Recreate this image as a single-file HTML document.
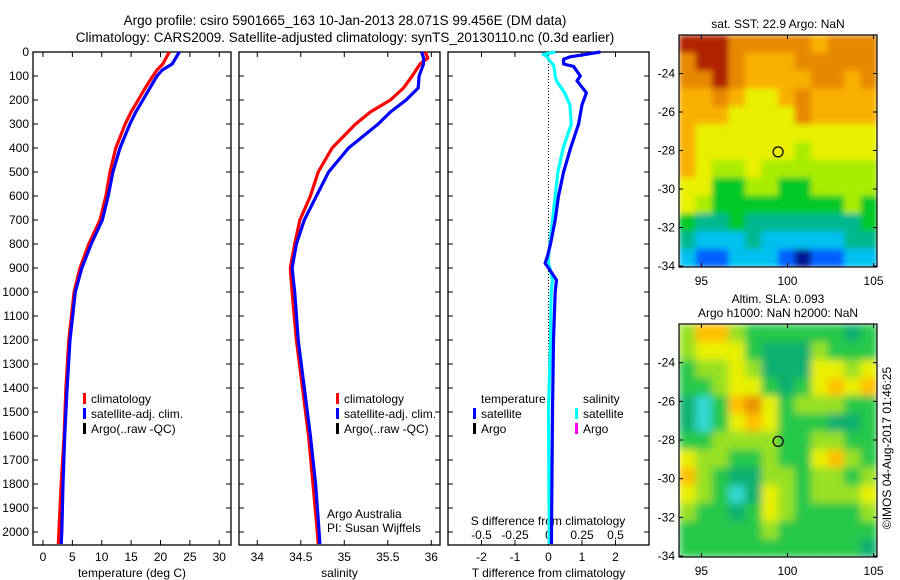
<!DOCTYPE html>
<html><head><meta charset="utf-8"><style>
body{margin:0;background:#fff;}
svg{display:block;font-family:"Liberation Sans",sans-serif;}
</style></head><body>
<svg id="c" width="900" height="580" viewBox="0 0 900 580">
<defs>
<filter id="blurA" x="0" y="0" width="1" height="1"><feGaussianBlur stdDeviation="3" edgeMode="duplicate"/></filter>
<filter id="blurB" x="0" y="0" width="1" height="1"><feGaussianBlur stdDeviation="4" edgeMode="duplicate"/></filter>
<clipPath id="clipA"><rect x="679" y="35" width="198" height="232"/></clipPath>
<clipPath id="clipB"><rect x="679" y="324" width="198" height="233"/></clipPath>
</defs>
</svg>
<script>
// ---- data ----
const tDepth=[0,50,75,100,150,200,250,300,400,500,600,700,800,900,1000,1200,1400,1600,1800,2000,2050];
const tClim=[21.5,20.4,19.4,18.7,17.4,16.2,15.0,14.0,12.4,11.4,10.7,9.7,7.8,6.3,5.3,4.4,3.9,3.6,3.1,2.7,2.6];
const tSat=[23.2,22.0,20.3,19.4,18.2,17.0,15.8,14.8,13.1,11.9,11.1,10.1,8.2,6.6,5.5,4.6,4.1,3.7,3.4,3.2,3.1];
const sDepth=[0,25,50,100,150,200,250,300,400,500,600,700,800,900,1000,1200,1400,1600,1800,2000,2050];
const sClim=[35.93,35.96,35.87,35.78,35.68,35.53,35.30,35.13,34.86,34.70,34.61,34.49,34.43,34.38,34.40,34.45,34.52,34.59,34.64,34.69,34.70];
const sSat=[35.89,35.91,35.91,35.86,35.85,35.71,35.53,35.39,35.05,34.82,34.68,34.54,34.45,34.40,34.43,34.47,34.54,34.61,34.67,34.71,34.72];
const dDepth=[0,10,20,30,50,60,100,120,170,220,300,400,500,600,700,800,850,880,900,950,1000,1200,1500,2000,2050];
const dT=[1.55,1.1,0.65,0.45,0.45,0.75,0.95,0.85,1.13,1.0,0.9,0.66,0.45,0.3,0.2,0.06,-0.03,-0.1,0.0,0.24,0.2,0.15,0.12,0.09,0.09];
const dS=[0.05,-0.04,-0.01,0.0,0.03,0.04,0.05,0.06,0.12,0.16,0.17,0.11,0.07,0.05,0.03,0.01,0.0,0.0,0.01,0.03,0.02,0.015,0.0,0.005,0.005];
const depthTicks=[0,100,200,300,400,500,600,700,800,900,1000,1100,1200,1300,1400,1500,1600,1700,1800,1900,2000];
const tTicks=[0,5,10,15,20,25,30];
const sTicks=[34,34.5,35,35.5,36];
const dTTicks=[-2,-1,0,1,2];
const dSTicks=[-0.5,-0.25,0,0.25,0.5];
const latTicks=[-24,-26,-28,-30,-32,-34];
const lonTicks=[95,100,105];
const sstGrid=["999888887888","899877788888","889877778878","778766787777","777666687777","766666666666","766666656666","765565555555","664455445555","654444444454","433433333334","322232222233","211222101122"];
const slaGrid=["577544444434","566643335444","455653336656","445664346767","324786455544","324676444334","445555445544","655445446754","754335545545","654236545556","544346544445","444445444444","444444444443"];
const argoLon=99.456, argoLat=-28.071;

const svg=document.getElementById('c');
const NS='http://www.w3.org/2000/svg';
function el(t,a,p){const e=document.createElementNS(NS,t);for(const k in a)e.setAttribute(k,a[k]);(p||svg).appendChild(e);return e;}
function txt(x,y,s,anchor,size,p){const e=el('text',{x:x,y:y,'font-size':size||12,'text-anchor':anchor||'middle',fill:'#000'},p);e.textContent=s;return e;}

const yTop=52,yBot=545,dMax=2054;
const yD=d=>yTop+(yBot-yTop)*d/dMax;

const t1=txt(345,25,'Argo profile: csiro 5901665_163 10-Jan-2013 28.071S 99.456E (DM data)','middle',13.5);


const t2=txt(345,42,'Climatology: CARS2009. Satellite-adjusted climatology: synTS_20130110.nc (0.3d earlier)','middle',13.5);



function panel(name,x0,x1,vmin,vmax,ticks,fmt,xlabel,leftLabels){
  const g=el('g',{});
  
  
  const sx=v=>x0+(x1-x0)*(v-vmin)/(vmax-vmin);
  el('rect',{x:x0,y:yTop,width:x1-x0,height:yBot-yTop,fill:'#fff',stroke:'#000','stroke-width':1.3},g);
  depthTicks.forEach(d=>{const y=yD(d);
    el('line',{x1:x0,y1:y,x2:x0+5,y2:y,stroke:'#000'},g);el('line',{x1:x1,y1:y,x2:x1-5,y2:y,stroke:'#000'},g);
    if(leftLabels) txt(x0-4,y+4,String(d),'end',12,g);});
  if(ticks) ticks.forEach(v=>{const x=sx(v);
    el('line',{x1:x,y1:yBot,x2:x,y2:yBot-5,stroke:'#000'},g);el('line',{x1:x,y1:yTop,x2:x,y2:yTop+5,stroke:'#000'},g);
    txt(x,yBot+16,fmt(v),'middle',12,g);});
  if(xlabel){const l=txt((x0+x1)/2,yBot+32,xlabel,'middle',12,g);
    
    }
  return {g,sx};
}
function line(p,depths,vals,color,name){
  const pts=depths.map((d,i)=>p.sx(vals[i]).toFixed(1)+','+yD(d).toFixed(1)).join(' ');
  const pl=el('polyline',{points:pts,fill:'none',stroke:color,'stroke-width':3.2,'stroke-linejoin':'round'},p.g);
  
  
}
function legend(g,x,y,items){
  items.forEach((it,i)=>{el('rect',{x:x,y:y+i*15-10,width:3,height:11,fill:it[1]},g);txt(x+8,y+i*15,it[0],'start',12,g);});
}

const p1=panel('temperature-panel',33,231,-1.7,32,tTicks,v=>String(v),'temperature (deg C)',true);
line(p1,tDepth,tClim,'#f00','temp-climatology-line');
line(p1,tDepth,tSat,'#00f','temp-satellite-line');
legend(p1.g,83,403,[['climatology','#f00'],['satellite-adj. clim.','#00f'],['Argo(..raw -QC)','#000']]);

const p2=panel('salinity-panel',239,440,33.79,36.1,sTicks,v=>String(v),'salinity',false);
line(p2,sDepth,sClim,'#f00','sal-climatology-line');
line(p2,sDepth,sSat,'#00f','sal-satellite-line');
legend(p2.g,336,403,[['climatology','#f00'],['satellite-adj. clim.','#00f'],['Argo(..raw -QC)','#000']]);
txt(327,518,'Argo Australia','start',12,p2.g);
txt(327,532,'PI: Susan Wijffels','start',12,p2.g);

const p3=panel('difference-panel',448,649,-3,3,null,null,'T difference from climatology',false);
el('line',{x1:p3.sx(0),y1:yTop,x2:p3.sx(0),y2:yBot,stroke:'#000','stroke-dasharray':'1,2'},p3.g);
dTTicks.forEach(v=>{const x=p3.sx(v);el('line',{x1:x,y1:yBot,x2:x,y2:yBot-5,stroke:'#000'},p3.g);el('line',{x1:x,y1:yTop,x2:x,y2:yTop+5,stroke:'#000'},p3.g);txt(x,yBot+16,String(v),'middle',12,p3.g);});
const sxS=v=>p3.sx(v*4);
dSTicks.forEach(v=>txt(sxS(v),539,String(v),'middle',12,p3.g));
txt(548,525,'S difference from climatology','middle',12,p3.g);
const pS={g:p3.g,sx:sxS};
line(pS,dDepth,dS,'#0ff','sal-diff-line');
line(p3,dDepth,dT,'#00f','temp-diff-line');
txt(481,403,'temperature','start',12,p3.g);
legend(p3.g,473,418,[['satellite','#00f'],['Argo','#000']]);
txt(583,403,'salinity','start',12,p3.g);
legend(p3.g,575,418,[['satellite','#0ff'],['Argo','#f0f']]);

function cmap(k){return ['#001890','#0060ff','#00c0f0','#00b890','#00c828','#a8ec00','#e8f000','#f8b000','#e88800','#b02000'][k];}
function cmap2(k){return ['#00008f','#0050ff','#30d8d0','#10b070','#28c848','#98e020','#e8f000','#ffc000','#e89000','#d06000'][k];}
function map(name,y0,y1,grid,cm,titleLines,filt,clip){
  const g=el('g',{});
  
  
  const x0=679,x1=877,lonMin=93.7,lonMax=105.2,latTop=-22.0,latBot=-34.05;
  const sx=v=>x0+(x1-x0)*(v-lonMin)/(lonMax-lonMin);
  const sy=v=>y0+(y1-y0)*(latTop-v)/(latTop-latBot);
  const rows=grid.length,cols=grid[0].length;
  const cw=(x1-x0)/cols,ch=(y1-y0)/rows;
  const cg=el('g',{'clip-path':'url(#'+clip+')'},g);
  const bg=el('g',{filter:'url(#'+filt+')'},cg);
  grid.forEach((r,i)=>{for(let j=0;j<cols;j++){el('rect',{x:(x0+j*cw).toFixed(2),y:(y0+i*ch).toFixed(2),width:(cw+0.6).toFixed(2),height:(ch+0.6).toFixed(2),fill:cm(+r[j])},bg);}});
  el('rect',{x:x0,y:y0,width:x1-x0,height:y1-y0,fill:'none',stroke:'#000','stroke-width':1.2},g);
  latTicks.forEach(v=>{const y=sy(v);el('line',{x1:x0,y1:y,x2:x0+4,y2:y,stroke:'#000'},g);el('line',{x1:x1,y1:y,x2:x1-4,y2:y,stroke:'#000'},g);txt(x0-4,y+4,String(v),'end',12,g);});
  lonTicks.forEach(v=>{const x=sx(v);el('line',{x1:x,y1:y1,x2:x,y2:y1-4,stroke:'#000'},g);el('line',{x1:x,y1:y0,x2:x,y2:y0+4,stroke:'#000'},g);txt(x,y1+18,String(v),'middle',12,g);});
  const c=el('circle',{cx:sx(argoLon),cy:sy(argoLat),r:5,fill:'none',stroke:'#000','stroke-width':1.2},g);
  
  
  titleLines.forEach((t,i)=>txt(778,y0-(titleLines.length-1-i)*14-7,t,'middle',12,g));
}
map('sst-map',35,267,sstGrid,cmap,['sat. SST: 22.9 Argo: NaN'],'blurA','clipA');
map('sla-map',324,557,slaGrid,cmap2,['Altim. SLA: 0.093','Argo h1000: NaN h2000: NaN'],'blurB','clipB');
const cr=txt(891,448,'©IMOS 04-Aug-2017 01:46:25','middle',12);
cr.setAttribute('transform','rotate(-90 891 448)');


</script>
</body></html>
